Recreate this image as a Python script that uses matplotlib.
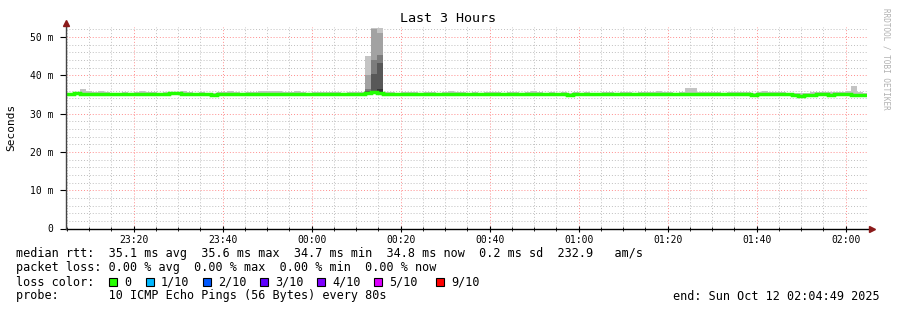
import matplotlib
matplotlib.use('Agg')
import matplotlib.pyplot as plt
import matplotlib.dates as mdates
from matplotlib.patches import Rectangle
from matplotlib.ticker import FuncFormatter
from datetime import datetime, timedelta

plt.rcParams['font.family'] = ['DejaVu Sans Mono']

# ---- data (ms), one value per 80 s probe step ----
median_ms = [
    35.2, 35.3, 35.2, 35.1, 35.1, 35.0, 35.1, 35.1, 35.0, 35.0, 35.2, 35.1, 35.2, 35.0, 35.1,
    35.1, 35.2, 35.3, 35.3, 35.2, 35.0, 35.1, 35.0, 35.0, 34.9, 35.1, 35.2, 35.1, 35.0, 35.1,
    35.0, 35.2, 35.1, 35.1, 35.0, 35.1, 35.2, 35.0, 35.1, 35.0, 35.1, 35.1, 35.0, 35.2, 35.1,
    35.1, 35.0, 35.1, 35.2, 35.2, 35.3, 35.6, 35.4, 35.2, 35.1, 35.1, 35.0, 35.1, 35.2, 35.1,
    35.2, 35.1, 35.0, 35.1, 35.1, 35.2, 35.0, 35.1, 35.0, 35.1, 35.1, 35.0, 35.1, 35.0, 35.0,
    35.1, 35.0, 35.1, 35.2, 35.1, 35.1, 35.0, 35.0, 35.1, 34.9, 35.0, 35.0, 35.1, 35.0, 35.0,
    35.1, 35.1, 35.0, 35.0, 35.1, 35.0, 35.0, 35.1, 35.1, 35.2, 35.0, 35.1, 35.0, 35.0, 35.2,
    35.1, 35.0, 35.1, 35.1, 35.0, 35.1, 35.0, 35.1, 35.0, 35.1, 34.9, 35.0, 35.2, 35.0, 35.1,
    35.1, 35.0, 34.8, 34.7, 34.8, 34.9, 35.0, 35.0, 34.9, 35.0, 35.1, 35.0, 34.9, 34.8, 34.8,
]
smoke_hi = [
    35.5, 35.6, 36.3, 36.0, 35.7, 35.8, 35.6, 35.5, 35.5, 35.6, 35.5, 35.7, 35.9, 35.7, 35.6,
    35.5, 35.6, 35.7, 35.6, 35.8, 35.6, 35.5, 35.6, 35.5, 35.5, 35.6, 35.7, 35.8, 35.6, 35.5,
    35.6, 35.7, 35.8, 35.9, 36.0, 35.9, 35.7, 35.6, 35.8, 35.6, 35.5, 35.6, 35.7, 35.6, 35.7,
    35.6, 35.5, 35.6, 35.7, 35.6, 45.0, 52.3, 52.3, 35.7, 35.6, 35.5, 35.6, 35.7, 35.6, 35.5,
    35.6, 35.7, 35.5, 35.6, 35.8, 35.7, 35.6, 35.5, 35.6, 35.5, 35.6, 35.7, 35.6, 35.5, 35.6,
    35.7, 35.5, 35.6, 35.8, 35.6, 35.5, 35.6, 35.5, 35.7, 35.5, 35.6, 35.5, 35.6, 35.5, 35.5,
    35.6, 35.6, 35.5, 35.6, 35.7, 35.5, 35.6, 35.6, 35.7, 35.8, 35.6, 35.6, 35.5, 35.6, 36.6,
    36.7, 35.7, 35.6, 35.7, 35.6, 35.5, 35.6, 35.7, 35.6, 35.6, 35.5, 35.6, 35.8, 35.6, 35.6,
    35.6, 35.5, 35.5, 35.4, 35.5, 35.6, 35.6, 35.7, 35.6, 35.6, 35.7, 35.9, 37.2, 35.6, 35.4,
]
smoke_lo = [
    34.9, 34.9, 34.8, 34.7, 34.8, 34.8, 34.9, 34.8, 34.7, 34.8, 34.9, 34.8, 34.9, 34.8, 34.8,
    34.9, 34.9, 35.0, 34.9, 34.9, 34.7, 34.8, 34.8, 34.7, 34.6, 34.8, 34.9, 34.8, 34.7, 34.8,
    34.8, 34.9, 34.8, 34.8, 34.7, 34.8, 34.9, 34.8, 34.8, 34.7, 34.8, 34.9, 34.7, 34.9, 34.8,
    34.8, 34.7, 34.8, 34.9, 34.9, 34.9, 35.0, 34.9, 34.9, 34.8, 34.8, 34.7, 34.8, 34.9, 34.8,
    34.9, 34.8, 34.7, 34.8, 34.8, 34.9, 34.7, 34.8, 34.7, 34.8, 34.8, 34.7, 34.8, 34.7, 34.7,
    34.8, 34.7, 34.8, 34.9, 34.8, 34.8, 34.7, 34.7, 34.8, 34.6, 34.7, 34.7, 34.8, 34.7, 34.7,
    34.8, 34.8, 34.7, 34.7, 34.8, 34.7, 34.7, 34.8, 34.8, 34.9, 34.7, 34.8, 34.7, 34.7, 34.9,
    34.8, 34.7, 34.8, 34.8, 34.7, 34.8, 34.7, 34.8, 34.7, 34.8, 34.6, 34.7, 34.9, 34.7, 34.8,
    34.8, 34.7, 34.5, 34.4, 34.5, 34.6, 34.7, 34.7, 34.6, 34.7, 34.8, 34.7, 34.6, 34.5, 34.5,
]
# the three steps around 00:12 with all 10 pings (sorted)
spike_idx = [50, 51, 52]
spike_pings = [
    [34.9, 35.0, 35.1, 35.2, 35.4, 35.6, 36.0, 36.4, 40.0, 45.0],
    [35.0, 35.1, 35.2, 35.3, 35.5, 36.0, 40.3, 44.0, 52.2, 52.3],
    [34.9, 35.0, 35.1, 35.2, 35.4, 36.4, 43.2, 45.3, 51.1, 52.3],
]
smoke_shades = ['#c4c4c4', '#a2a2a2', '#7c7c7c', '#585858', '#383838']

loss_labels = ['0', '1/10', '2/10', '3/10', '4/10', '5/10', '9/10']
loss_colors = ['#26ff00', '#00b8ff', '#0059ff', '#5e00ff', '#7e00ff', '#dd00ff', '#ff0000']

stats_lines = [
    'median rtt:  35.1 ms avg  35.6 ms max  34.7 ms min  34.8 ms now  0.2 ms sd  232.9   am/s',
    'packet loss: 0.00 % avg  0.00 % max  0.00 % min  0.00 % now',
    'loss color:',
    'probe:       10 ICMP Echo Pings (56 Bytes) every 80s',
]
end_text = 'end: Sun Oct 12 02:04:49 2025'

t_start = datetime(2025, 10, 11, 23, 4, 49)
t_end = t_start + timedelta(hours=3)
first_step = datetime(2025, 10, 11, 23, 5, 20)
step = timedelta(seconds=80)

# ---- figure ----
W, H = 897, 310
fig = plt.figure(figsize=(W / 100, H / 100), dpi=100)
fig.patch.set_facecolor('white')
ax = fig.add_axes([66 / W, (H - 228.5) / H, 801 / W, 201.5 / H])

edges = [t_start] + [first_step + step * (k + 1) for k in range(len(median_ms))]
xe = mdates.date2num(edges)
widths = xe[1:] - xe[:-1]

# smoke band
ax.bar(xe[:-1], [h - l for h, l in zip(smoke_hi, smoke_lo)], bottom=smoke_lo,
       width=widths, align='edge', color=smoke_shades[0], linewidth=0, zorder=2)
# detailed smoke for the spike
for j, idx in enumerate(spike_idx):
    p = spike_pings[j]
    for k in range(len(p) - 1):
        shade = smoke_shades[min(k, len(p) - 2 - k)]
        ax.bar(xe[idx], p[k + 1] - p[k], bottom=p[k], width=widths[idx],
               align='edge', color=shade, linewidth=0, zorder=3)

# median line
ax.plot(xe, median_ms + [median_ms[-1]], drawstyle='steps-post',
        color='#22ff00', lw=2.5, zorder=4, solid_capstyle='butt', solid_joinstyle='miter')

ax.set_xlim(mdates.date2num(t_start), mdates.date2num(t_end))
ax.set_ylim(0, 52.6)

ax.xaxis.set_major_locator(mdates.MinuteLocator(byminute=[0, 20, 40]))
ax.xaxis.set_minor_locator(mdates.MinuteLocator(byminute=range(0, 60, 5)))
ax.xaxis.set_major_formatter(mdates.DateFormatter('%H:%M'))
ax.set_yticks(range(0, 51, 10))
ax.set_yticks(range(0, 53, 2), minor=True)
ax.yaxis.set_major_formatter(FuncFormatter(lambda v, p: '0' if v == 0 else '%d m' % v))

ax.grid(which='minor', color='#bfbfbf', linestyle=(0, (1, 2)), lw=0.7, zorder=1)
ax.grid(which='major', color='#ff8c8c', linestyle=(0, (1, 2)), lw=0.7, zorder=1)
ax.set_axisbelow(True)

ax.tick_params(which='major', direction='inout', length=4, width=0.8, labelsize=7,
               colors='black', pad=3)
ax.tick_params(which='minor', direction='inout', length=3, width=0.6)
ax.tick_params(axis='y', which='minor', length=0)
ax.tick_params(axis='y', which='major', direction='out', length=4, pad=5)

for s in ax.spines.values():
    s.set_visible(False)
ax.plot([0, 1.006], [0, 0], transform=ax.transAxes, color='black', lw=1, clip_on=False, zorder=5)
ax.plot([0, 0], [0, 1.02], transform=ax.transAxes, color='#444444', lw=1, clip_on=False, zorder=5)
ax.plot([1.006], [0], marker='>', ms=4, color='#8b1a1a', transform=ax.transAxes, clip_on=False, zorder=6)
ax.plot([0], [1.022], marker='^', ms=4, color='#8b1a1a', transform=ax.transAxes, clip_on=False, zorder=6)

# texts
fig.text(448 / W, 1 - 19 / H, 'Last 3 Hours', ha='center', va='center', fontsize=9.6)
fig.text(11 / W, 1 - 127 / H, 'Seconds', rotation=90, ha='center', va='center', fontsize=8)
fig.text(886 / W, 1 - 59 / H, 'RRDTOOL / TOBI OETIKER', rotation=270, ha='center',
         va='center', fontsize=5.5, color='#b0b0b0')

row_y = [254, 268, 282, 296]
for line, y in zip(stats_lines, row_y):
    fig.text(16 / W, 1 - y / H, line, ha='left', va='center', fontsize=8.5)
fig.text(880 / W, 1 - 296 / H, end_text, ha='right', va='center', fontsize=8.5)

swatch_x = [109, 146, 203, 260, 317, 374, 436]
for lab, col, sx in zip(loss_labels, loss_colors, swatch_x):
    fig.add_artist(Rectangle((sx / W, 1 - 286 / H), 8 / W, 8 / H, transform=fig.transFigure,
                             facecolor=col, edgecolor='black', lw=0.8))
    fig.text((sx + 15) / W, 1 - 282 / H, lab, ha='left', va='center', fontsize=8.5)

fig.savefig('out.png', dpi=100, facecolor='white')
